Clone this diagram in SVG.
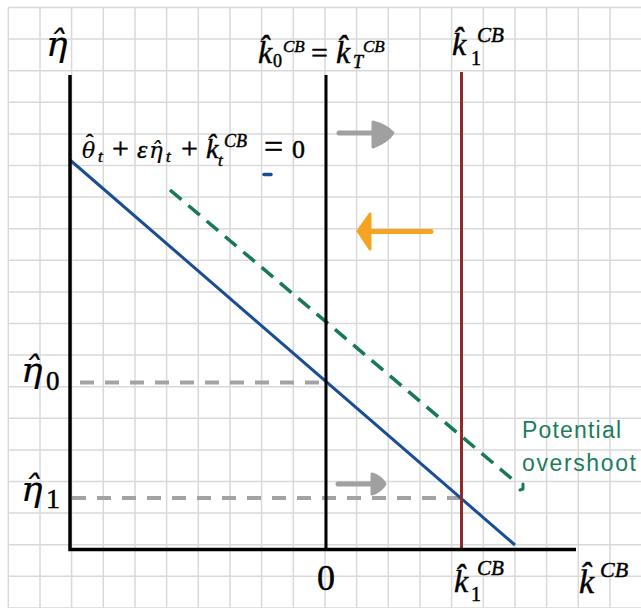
<svg xmlns="http://www.w3.org/2000/svg" width="641" height="608" viewBox="0 0 641 608">
<defs>
<style>
.grid line{stroke:#d9d9d9;stroke-width:1.5}
.m{font-family:"Liberation Serif","DejaVu Serif",serif;font-style:italic;fill:#000;stroke:#000;stroke-width:0.45}
.g{font-family:"DejaVu Serif",serif;stroke-width:0.2}
.u{font-style:normal}
.gdash{stroke:#a3a3a3;stroke-width:4;stroke-dasharray:14 11;fill:none}
.garrow{stroke:#a0a0a0;fill:#a0a0a0;stroke-linejoin:round;stroke-linecap:round}
</style>
</defs>
<rect width="641" height="608" fill="#fff"/>
<g class="grid">
<line x1="8.3" y1="7.5" x2="8.3" y2="608"/><line x1="40" y1="7.5" x2="40" y2="608"/><line x1="71.6" y1="7.5" x2="71.6" y2="608"/><line x1="103.3" y1="7.5" x2="103.3" y2="608"/><line x1="135" y1="7.5" x2="135" y2="608"/><line x1="166.6" y1="7.5" x2="166.6" y2="608"/><line x1="198.3" y1="7.5" x2="198.3" y2="608"/><line x1="230" y1="7.5" x2="230" y2="608"/><line x1="261.6" y1="7.5" x2="261.6" y2="608"/><line x1="293.3" y1="7.5" x2="293.3" y2="608"/><line x1="325" y1="7.5" x2="325" y2="608"/><line x1="356.6" y1="7.5" x2="356.6" y2="608"/><line x1="388.3" y1="7.5" x2="388.3" y2="608"/><line x1="420" y1="7.5" x2="420" y2="608"/><line x1="451.6" y1="7.5" x2="451.6" y2="608"/><line x1="483.3" y1="7.5" x2="483.3" y2="608"/><line x1="515" y1="7.5" x2="515" y2="608"/><line x1="546.6" y1="7.5" x2="546.6" y2="608"/><line x1="578.3" y1="7.5" x2="578.3" y2="608"/><line x1="610" y1="7.5" x2="610" y2="608"/>
<line x1="8.3" y1="7.5" x2="641" y2="7.5"/><line x1="8.3" y1="39.1" x2="641" y2="39.1"/><line x1="8.3" y1="70.7" x2="641" y2="70.7"/><line x1="8.3" y1="102.3" x2="641" y2="102.3"/><line x1="8.3" y1="133.9" x2="641" y2="133.9"/><line x1="8.3" y1="165.5" x2="641" y2="165.5"/><line x1="8.3" y1="197.1" x2="641" y2="197.1"/><line x1="8.3" y1="228.7" x2="641" y2="228.7"/><line x1="8.3" y1="260.3" x2="641" y2="260.3"/><line x1="8.3" y1="291.9" x2="641" y2="291.9"/><line x1="8.3" y1="323.5" x2="641" y2="323.5"/><line x1="8.3" y1="355.1" x2="641" y2="355.1"/><line x1="8.3" y1="386.7" x2="641" y2="386.7"/><line x1="8.3" y1="418.3" x2="641" y2="418.3"/><line x1="8.3" y1="449.9" x2="641" y2="449.9"/><line x1="8.3" y1="481.5" x2="641" y2="481.5"/><line x1="8.3" y1="513.1" x2="641" y2="513.1"/><line x1="8.3" y1="544.7" x2="641" y2="544.7"/><line x1="8.3" y1="576.3" x2="641" y2="576.3"/><line x1="8.3" y1="607.9" x2="641" y2="607.9"/>
</g>
<g id="connectors">
<line id="eta0-guide" class="gdash" x1="80" y1="382.5" x2="325" y2="382.5"/>
<line id="eta1-guide" class="gdash" x1="72" y1="498" x2="461" y2="498"/>
<line id="potential-line" x1="170" y1="190" x2="512" y2="479" stroke="#18795a" stroke-width="3.5" stroke-dasharray="15 9"/>
<path id="potential-tick" d="M523,484 L523,489 L520,490" stroke="#18795a" stroke-width="3" fill="none" stroke-linecap="round" stroke-linejoin="round"/>
<line id="constraint-line" x1="70" y1="160" x2="515" y2="545" stroke="#1a4e93" stroke-width="3"/>
<line id="blue-tick" x1="264" y1="174.5" x2="271" y2="174.5" stroke="#1a4e93" stroke-width="3.5" stroke-linecap="round"/>
<line id="k0-line" x1="326" y1="75" x2="326" y2="549" stroke="#000" stroke-width="3"/>
<line id="k1-line" x1="461.5" y1="72" x2="461.5" y2="549" stroke="#8e2a2a" stroke-width="3"/>
<path id="axes" d="M70,75 L70,549.5 L576,549.5" stroke="#000" stroke-width="3.5" fill="none"/>
<g id="arrow-top" class="garrow"><line x1="339" y1="133" x2="375" y2="133" stroke-width="5"/><path d="M373,122 Q387,126 393,133 Q387,142 373,147 Z" stroke-width="3"/></g>
<g id="arrow-bottom" class="garrow"><line x1="338" y1="484" x2="373" y2="484" stroke-width="5"/><path d="M372,474 Q381,477 385,484 Q381,491 372,494 Z" stroke-width="3"/></g>
<g id="arrow-orange"><line x1="370" y1="231.5" x2="431" y2="231.5" stroke="#f5a321" stroke-width="5" stroke-linecap="round"/><path d="M358,231 L370,214 L370,249 Z" fill="#f5a321" stroke="#f5a321" stroke-width="3" stroke-linejoin="round"/></g>
</g>
<g id="label-eta">
<text class="m" font-size="36"><tspan class="g" x="46" y="56">η&#x302;</tspan></text>
</g>
<g id="label-k0-kT">
<text class="m" font-size="32"><tspan x="258" y="63">k&#x302;</tspan><tspan class="u" x="273" y="67" font-size="18">0</tspan><tspan x="283" y="52" font-size="17">CB</tspan><tspan class="u" x="311" y="63" font-size="30">=</tspan><tspan x="336" y="63">k&#x302;</tspan><tspan x="353" y="68" font-size="18">T</tspan><tspan x="363" y="52" font-size="17">CB</tspan></text>
</g>
<g id="label-k1-top">
<text class="m" font-size="32"><tspan x="452" y="55">k&#x302;</tspan><tspan class="u" x="471" y="65" font-size="20">1</tspan><tspan x="477" y="42" font-size="21">CB</tspan></text>
</g>
<g id="label-equation">
<text class="m" font-size="26"><tspan class="g" x="82" y="158" font-size="22">θ</tspan><tspan class="u" x="86" y="149" font-size="22">ˆ</tspan><tspan x="98" y="162" font-size="17">t</tspan><tspan class="u" x="112" y="158" font-size="30">+</tspan><tspan x="137" y="158">ε</tspan><tspan class="g" x="149" y="158" font-size="23">η&#x302;</tspan><tspan x="166" y="162" font-size="17">t</tspan><tspan class="u" x="181" y="158" font-size="30">+</tspan><tspan x="206" y="158" font-size="28">k&#x302;</tspan><tspan x="218" y="166" font-size="17">t</tspan><tspan x="224" y="147" font-size="18">CB</tspan><tspan class="u" x="264" y="158" font-size="34">=</tspan><tspan class="u" x="292" y="158">0</tspan></text>
</g>
<g id="label-eta0">
<text class="m" font-size="36"><tspan class="g" x="21" y="382">η&#x302;</tspan><tspan class="u" x="46" y="390" font-size="27">0</tspan></text>
</g>
<g id="label-eta1">
<text class="m" font-size="36"><tspan class="g" x="21" y="501">η&#x302;</tspan><tspan class="u" x="46" y="508" font-size="28">1</tspan></text>
</g>
<g id="label-zero">
<text class="m" font-size="36"><tspan class="u" x="317" y="590">0</tspan></text>
</g>
<g id="label-k1-bottom">
<text class="m" font-size="32"><tspan x="454" y="592">k&#x302;</tspan><tspan class="u" x="471" y="601" font-size="20">1</tspan><tspan x="477" y="575" font-size="21">CB</tspan></text>
</g>
<g id="label-k-axis">
<text class="m" font-size="34"><tspan x="579" y="593">k&#x302;</tspan><tspan x="600" y="577" font-size="22">CB</tspan></text>
</g>
<g id="label-potential">
<text x="522" y="438" font-family="Liberation Sans, Arial, sans-serif" font-size="23" fill="#1c7c5c" textLength="99">Potential</text>
<text x="522" y="471" font-family="Liberation Sans, Arial, sans-serif" font-size="23" fill="#1c7c5c" textLength="114">overshoot</text>
</g>
</svg>
